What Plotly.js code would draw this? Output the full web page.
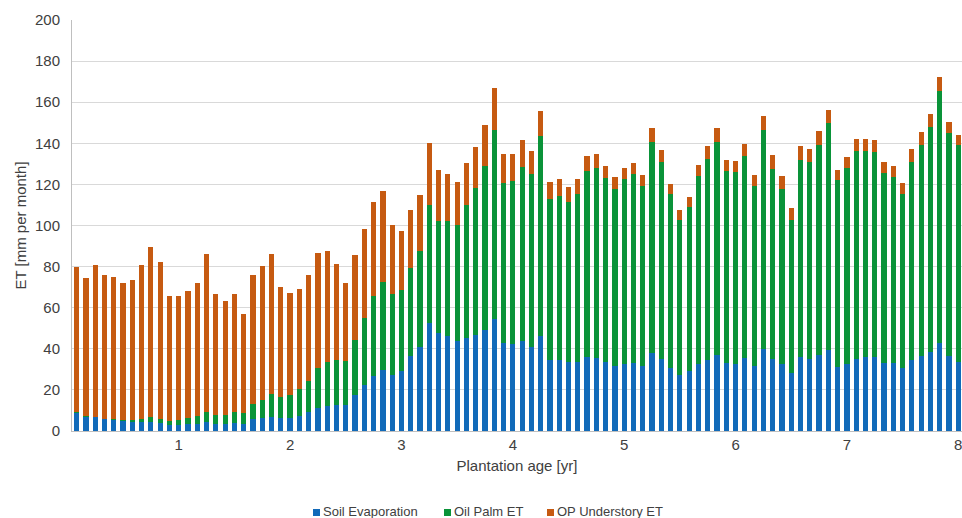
<!DOCTYPE html>
<html>
<head>
<meta charset="utf-8">
<script src="https://cdn.plot.ly/plotly-3.0.1.min.js"></script>
<style>html,body{margin:0;padding:0;background:#fff;}#chart{width:962px;height:518px;}</style>
</head>
<body>
<div id="chart"></div>
<script>
// month index 1..96 (plantation age = month/12)
const months = Array.from({length: 96}, (_, i) => i + 1);
const tickVals = [12, 24, 36, 48, 60, 72, 84, 96];
const tickText = ['1', '2', '3', '4', '5', '6', '7', '8'];

const soilEvaporation = [
  8.9, 7.0, 6.7, 5.7, 5.4, 4.9, 4.4, 4.6, 4.6, 3.7, 2.8, 3.1, 3.4, 3.6, 4.4, 3.4,
  3.6, 4.1, 3.6, 5.7, 6.3, 6.8, 6.2, 6.2, 7.3, 9.1, 11.4, 12.3, 12.8, 12.5, 17.5, 22.4,
  26.6, 29.5, 27.4, 29.4, 36.3, 41.0, 52.6, 47.5, 46.1, 43.6, 45.4, 46.7, 49.0, 54.7, 43.0, 42.3,
  44.0, 41.0, 46.4, 34.7, 34.7, 33.4, 33.4, 36.0, 35.5, 33.7, 31.8, 32.6, 33.1, 31.5, 38.0, 35.0,
  30.7, 27.4, 29.0, 32.4, 34.4, 37.0, 33.1, 32.8, 35.4, 31.5, 39.7, 34.9, 32.4, 28.4, 36.0, 35.2,
  36.8, 39.3, 31.1, 32.8, 35.0, 35.8, 35.8, 32.9, 32.9, 30.5, 34.7, 36.5, 38.3, 42.7, 36.3, 33.7
];
const oilPalmET = [
  0.3, 0.3, 0.3, 0.3, 0.4, 0.5, 1.0, 1.1, 2.1, 2.2, 2.2, 2.4, 2.9, 3.6, 4.7, 4.2,
  4.3, 5.3, 5.2, 7.6, 8.9, 11.2, 10.3, 11.3, 13.1, 15.2, 19.3, 21.4, 21.9, 21.4, 26.6, 32.6,
  39.1, 43.2, 39.4, 39.2, 43.2, 46.8, 57.5, 54.9, 56.3, 56.8, 64.4, 71.4, 80.0, 91.8, 77.5, 79.4,
  84.6, 83.9, 97.2, 78.0, 79.8, 77.9, 81.8, 90.5, 92.5, 89.3, 86.1, 90.0, 92.0, 87.6, 102.5, 95.7,
  84.5, 75.4, 79.8, 91.5, 98.1, 103.6, 93.6, 93.2, 98.4, 87.5, 106.6, 92.8, 85.5, 74.4, 95.7, 95.5,
  102.5, 110.6, 90.9, 95.3, 101.4, 100.5, 100.1, 92.5, 90.5, 85.0, 96.0, 102.7, 109.6, 122.9, 108.7, 105.6
];
const understoryET = [
  70.8, 67.3, 73.8, 70.1, 69.3, 66.8, 68.3, 75.3, 82.6, 76.2, 60.9, 60.4, 61.8, 65.0, 76.9, 59.2,
  55.2, 57.4, 48.0, 62.8, 65.1, 68.0, 53.7, 49.5, 48.7, 51.4, 56.1, 54.1, 46.6, 38.0, 41.5, 43.5,
  45.9, 44.1, 33.4, 28.6, 28.2, 27.2, 30.0, 24.8, 22.8, 20.8, 20.8, 20.1, 19.7, 20.6, 14.5, 13.3,
  12.8, 11.4, 12.1, 8.3, 8.0, 7.3, 7.3, 7.5, 6.8, 6.0, 5.7, 5.4, 5.5, 5.3, 6.8, 6.0,
  5.2, 4.7, 5.1, 5.5, 6.3, 6.7, 5.3, 5.4, 5.9, 5.6, 7.1, 6.6, 6.2, 5.7, 7.1, 6.3,
  6.5, 6.3, 4.8, 5.1, 5.5, 5.8, 5.7, 5.5, 5.7, 5.2, 6.3, 6.5, 6.5, 6.7, 5.4, 4.6
];

const seriesNames = ['Soil Evaporation', 'Oil Palm ET', 'OP Understory ET'];
const seriesColors = ['#116AB9', '#0A9339', '#C65A11'];
const seriesValues = [soilEvaporation, oilPalmET, understoryET];

const traces = seriesValues.map((vals, k) => ({
  type: 'bar',
  x: months,
  y: vals,
  name: seriesNames[k],
  marker: {color: seriesColors[k], line: {width: 0}},
  showlegend: false,
  hoverinfo: 'x+y+name'
}));

const fontFam = 'Liberation Sans, Arial, sans-serif';
const W = 962, H = 518, ML = 72, MR = 0, MT = 20, MB = 87;
const plotW = W - ML - MR;
const plotH = H - MT - MB;
const px2paperX = px => (px - ML) / plotW;
const px2paperY = py => (H - MB - py) / plotH;

// custom legend (square swatch right next to its label)
const legendStartPx = [313, 444, 547];
const shapes = [];
const annotations = [];
seriesNames.forEach((name, k) => {
  const x0 = legendStartPx[k];
  shapes.push({
    type: 'rect', xref: 'paper', yref: 'paper',
    x0: px2paperX(x0), x1: px2paperX(x0 + 7),
    y0: px2paperY(516), y1: px2paperY(509),
    fillcolor: seriesColors[k], line: {width: 0}
  });
  annotations.push({
    xref: 'paper', yref: 'paper',
    x: px2paperX(x0 + 8), y: px2paperY(511),
    xanchor: 'left', yanchor: 'middle',
    text: name, showarrow: false,
    font: {family: fontFam, size: 13, color: '#404040'}
  });
});

const layout = {
  width: W,
  height: H,
  barmode: 'stack',
  bargap: 0.44,
  margin: {l: ML, r: MR, t: MT, b: MB, autoexpand: false},
  paper_bgcolor: '#ffffff',
  plot_bgcolor: '#ffffff',
  font: {family: fontFam, size: 15, color: '#404040'},
  xaxis: {
    range: [0.5, 96.4],
    tickmode: 'array',
    tickvals: tickVals,
    ticktext: tickText,
    ticks: '',
    ticklabeloverflow: 'allow',
    showgrid: false,
    zeroline: false,
    showline: true,
    linecolor: '#bfbfbf',
    linewidth: 1,
    tickfont: {family: fontFam, size: 15, color: '#404040'},
    title: {text: 'Plantation age [yr]', font: {family: fontFam, size: 15, color: '#404040'}, standoff: 8}
  },
  yaxis: {
    range: [0, 200],
    dtick: 20,
    ticks: '',
    showgrid: true,
    gridcolor: '#d9d9d9',
    gridwidth: 1,
    zeroline: false,
    showline: true,
    linecolor: '#bfbfbf',
    linewidth: 1,
    ticklabelstandoff: 8,
    tickfont: {family: fontFam, size: 15, color: '#404040'},
    title: {text: 'ET [mm per month]', font: {family: fontFam, size: 15, color: '#404040'}, standoff: 4}
  },
  shapes: shapes,
  annotations: annotations,
  showlegend: false
};

Plotly.newPlot('chart', traces, layout, {displayModeBar: false, staticPlot: true});
</script>
</body>
</html>
